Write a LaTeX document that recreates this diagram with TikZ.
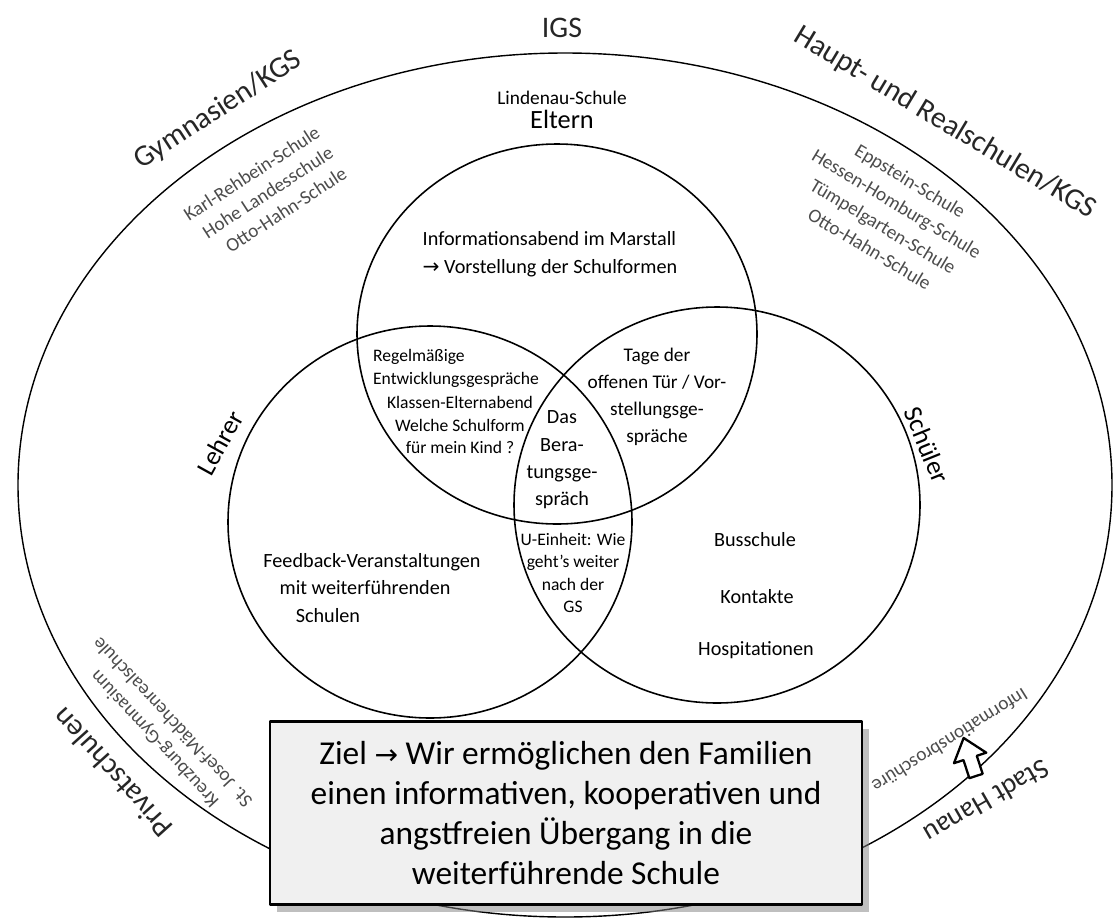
\documentclass[tikz,border=0pt]{standalone}
\usepackage{fontspec}
\setmainfont{Carlito}
\newfontfamily\arrowfont{DejaVu Sans}
\usetikzlibrary{shadows}

\newcommand{\setfs}[2]{\fontsize{#1}{#2}\selectfont}

\begin{document}
\begin{tikzpicture}[x=0.02cm, y=-0.02cm, line cap=round, line join=round,
  ring/.style={line width=0.9pt},
  outer/.style={font=\setfs{17}{20}, text=black!85},
  school/.style={font=\setfs{11}{14}, text=black!70, align=center},
  item/.style={font=\setfs{11.5}{15.5}, align=center},
  zielbox/.style={draw, line width=1.2pt, fill=black!6, inner sep=0pt,
    minimum width=11.84cm, minimum height=3.66cm, align=center,
    font=\setfs{19}{22.7},
    drop shadow={shadow xshift=4pt, shadow yshift=-4pt, opacity=0.5}}]
\useasboundingbox (0,0) rectangle (1116,920);

% ---------- outer ring ----------
\draw[line width=0.8pt] (565,485) circle [x radius=547, y radius=432];

% ---------- venn circles ----------
\draw[ring] (557,334) circle [x radius=200, y radius=190]; % Eltern
\draw[ring] (430,522) circle [x radius=202, y radius=196]; % Lehrer
\draw[ring] (717,505) circle [x radius=203, y radius=198]; % Schueler

% ---------- school types ----------
\node[outer] (igs) at (562,28) {IGS};
\node[outer, rotate=33] (gym) at (218,110) {Gymnasien/KGS};
\node[outer, rotate=-31] (haupt) at (945,123) {Haupt- und Realschulen/KGS};
\node[outer, rotate=132] (privat) at (112,773) {Privatschulen};
\node[outer, font=\setfs{16}{19}, rotate=210] (stadt) at (987,802) {Stadt Hanau};

% ---------- schools ----------
\node[school, rotate=33, align=right] (gymlist) at (265,194)
  {Karl-Rehbein-Schule\\Hohe Landesschule\\Otto-Hahn-Schule};
\node[school, rotate=-31, font=\setfs{11}{15}] (hauptlist) at (890,215)
  {Eppstein-Schule\\Hessen-Homburg-Schule\\Tümpelgarten-Schule\\Otto-Hahn-Schule};
\node[school, rotate=133] (privlist) at (163,731)
  {Kreuzburg-Gymnasium\\St. Josef-Mädchenrealschule};
\node[school, rotate=212] (broschuere) at (950,741) {Informationsbroschüre};

% hollow arrow up to the brochure
\begin{scope}[shift={(976,776)}, rotate=18]
  \draw[line width=1.3pt, fill=white] (-7,0) -- (-7,-19) -- (-17,-19) -- (0,-40)
    -- (17,-19) -- (7,-19) -- (7,0) -- cycle;
\end{scope}

% ---------- circle labels ----------
\node[item, font=\setfs{11}{13}] (lindenau) at (562,98) {Lindenau-Schule};
\node[item, font=\setfs{15}{18}] (eltern) at (562,119) {Eltern};
\node[item, font=\setfs{15}{18}, rotate=61] (lehrer) at (220,443) {Lehrer};
\node[item, font=\setfs{15}{18}, rotate=-68] (schueler) at (927,445) {Schüler};

% ---------- contents ----------
\node[item, align=left, font=\setfs{11.5}{16}] (abend) at (550,254)
  {Informationsabend im Marstall\\{\arrowfont →} Vorstellung der Schulformen};
\node[item, align=left, font=\setfs{10}{13}] (regel) at (456,368)
  {Regelmäßige\\Entwicklungsgespräche};
\node[item, font=\setfs{10}{13}] (klassen) at (460,425)
  {Klassen-Elternabend\\Welche Schulform\\für mein Kind ?};
\node[item, font=\setfs{11}{15.3}] (tage) at (657,397)
  {Tage der\\offenen Tür / Vor-\\stellungsge-\\spräche};
\node[item, font=\setfs{11.5}{15.6}] (beratung) at (562,460)
  {Das\\Bera-\\tungsge-\\spräch};
\node[item, font=\setfs{10}{12.8}] (ueinheit) at (573,573)
  {U-Einheit: Wie\\geht's weiter\\nach der\\GS};
\node[item, align=left, font=\setfs{11.5}{15.6}] (feedback) at (372,588)
  {Feedback-Veranstaltungen\\\hspace*{0.8em}mit weiterführenden\\\hspace*{1.6em}Schulen};
\node[item] (bus) at (755,540) {Busschule};
\node[item] (kontakte) at (757,597) {Kontakte};
\node[item] (hospit) at (756,650) {Hospitationen};

% ---------- goal ----------
\node[zielbox] (ziel) at (566,813)
  {Ziel {\arrowfont\setfs{16}{22.7}→} Wir ermöglichen den Familien\\einen informativen, kooperativen und\\angstfreien Übergang in die\\weiterführende Schule};
\end{tikzpicture}
\end{document}
